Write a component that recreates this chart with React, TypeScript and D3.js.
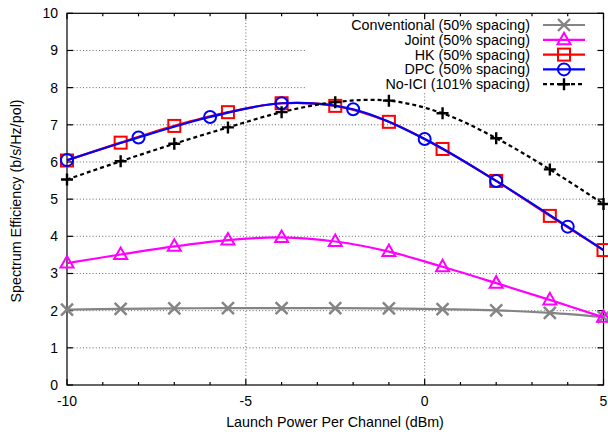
import React from "react";
import * as d3 from "d3";

// Launch power sample points (dBm) for the 1.5 dB-spaced series
const powerSteps = [-10, -8.5, -7, -5.5, -4, -2.5, -1, 0.5, 2, 3.5, 5];
// DPC sample points (markers on the 2 dB grid, line continues to 5 dBm)
const dpcPower = [-10, -8, -6, -4, -2, 0, 2, 4, 5];

const conventional = [2.03, 2.05, 2.06, 2.07, 2.07, 2.07, 2.06, 2.04, 2.01, 1.94, 1.83];
const joint = [3.28, 3.51, 3.73, 3.9, 3.97, 3.86, 3.59, 3.18, 2.74, 2.29, 1.82];
const hk = [6.04, 6.52, 6.97, 7.34, 7.58, 7.51, 7.08, 6.35, 5.49, 4.55, 3.63];
const dpc = [6.05, 6.66, 7.21, 7.58, 7.42, 6.62, 5.49, 4.26, 3.63];
const noIci = [5.53, 6.02, 6.49, 6.93, 7.34, 7.61, 7.65, 7.31, 6.64, 5.8, 4.87];

const seriesNames = [
  "Conventional (50% spacing)",
  "Joint (50% spacing)",
  "HK (50% spacing)",
  "DPC (50% spacing)",
  "No-ICI (101% spacing)",
];

const xTickLabels = [-10, -5, 0, 5];
const yTickLabels = [0, 1, 2, 3, 4, 5, 6, 7, 8, 9, 10];

const W = 608;
const H = 432;
const plot = { left: 67, right: 603.5, top: 13.3, bottom: 385 };
const FONT = "'Liberation Sans', Arial, Helvetica, sans-serif";
const FS = 14.3;

type Marker = "x" | "tri" | "sq" | "circ" | "plus";

function MarkerShape({ kind, cx, cy, color }: { kind: Marker; cx: number; cy: number; color: string }) {
  const s = 6;
  const sw = 2;
  if (kind === "x")
    return (
      <path d={`M${cx - s},${cy - s}L${cx + s},${cy + s}M${cx - s},${cy + s}L${cx + s},${cy - s}`} stroke={color} strokeWidth={2.4} fill="none" />
    );
  if (kind === "plus")
    return <path d={`M${cx - s},${cy}L${cx + s},${cy}M${cx},${cy - s}L${cx},${cy + s}`} stroke={color} strokeWidth={2.4} fill="none" />;
  if (kind === "sq")
    return <rect x={cx - s} y={cy - s} width={2 * s} height={2 * s} stroke={color} strokeWidth={sw} fill="none" />;
  if (kind === "circ") return <circle cx={cx} cy={cy} r={s} stroke={color} strokeWidth={sw} fill="none" />;
  return (
    <path d={`M${cx - 6.5},${cy + 4.5}L${cx + 6.5},${cy + 4.5}L${cx},${cy - 7}Z`} stroke={color} strokeWidth={sw} fill="none" />
  );
}

export default function App() {
  const x = d3.scaleLinear().domain([-10, 5]).range([plot.left, plot.right]);
  const y = d3.scaleLinear().domain([0, 10]).range([plot.bottom, plot.top]);

  const line = d3
    .line<[number, number]>()
    .x((d) => x(d[0]))
    .y((d) => y(d[1]))
    .curve(d3.curveCatmullRom.alpha(0.5));

  const series = [
    { name: seriesNames[0], xs: powerSteps, ys: conventional, color: "#848484", marker: "x" as Marker, dash: undefined, marked: (_: number) => true },
    { name: seriesNames[1], xs: powerSteps, ys: joint, color: "#ff00ff", marker: "tri" as Marker, dash: undefined, marked: (_: number) => true },
    { name: seriesNames[2], xs: powerSteps, ys: hk, color: "#ff0000", marker: "sq" as Marker, dash: undefined, marked: (_: number) => true },
    { name: seriesNames[3], xs: dpcPower, ys: dpc, color: "#0000ff", marker: "circ" as Marker, dash: undefined, marked: (v: number) => v % 2 === 0 },
    { name: seriesNames[4], xs: powerSteps, ys: noIci, color: "#000000", marker: "plus" as Marker, dash: "4,3", marked: (_: number) => true },
  ];

  const minorX = d3.range(-10, 6, 1);
  const legend = { textRight: 530, lineX0: 543, lineX1: 585, y0: 25, dy: 14.8, boxLeft: 305, boxBottom: 93 };

  return (
    <svg width={W} height={H} style={{ position: "absolute", left: 0, top: 0, background: "#fff" }} fontFamily={FONT}>
      <rect width={W} height={H} fill="#fff" />
      {/* grid */}
      <g stroke="#666" strokeWidth={1} strokeDasharray="1,2.2">
        {d3.range(1, 10).map((v) => (
          <line key={`gy${v}`} x1={plot.left} x2={plot.right} y1={y(v)} y2={y(v)} />
        ))}
        {[-5, 0].map((v) => (
          <line key={`gx${v}`} x1={x(v)} x2={x(v)} y1={plot.top} y2={plot.bottom} />
        ))}
      </g>
      {/* opaque key area */}
      <rect x={legend.boxLeft} y={plot.top + 1} width={plot.right - legend.boxLeft - 1} height={legend.boxBottom - plot.top - 1} fill="#fff" />

      {/* border and ticks */}
      <g stroke="#000" strokeWidth={1.2} fill="none">
        <rect x={plot.left} y={plot.top} width={plot.right - plot.left} height={plot.bottom - plot.top} />
        {minorX.map((v) => {
          const len = xTickLabels.includes(v) ? 6 : 3;
          return (
            <g key={`tx${v}`}>
              <line x1={x(v)} x2={x(v)} y1={plot.bottom} y2={plot.bottom - len} />
              <line x1={x(v)} x2={x(v)} y1={plot.top} y2={plot.top + len} />
            </g>
          );
        })}
        {yTickLabels.map((v) => (
          <g key={`ty${v}`}>
            <line x1={plot.left} x2={plot.left + 6} y1={y(v)} y2={y(v)} />
            <line x1={plot.right} x2={plot.right - 6} y1={y(v)} y2={y(v)} />
          </g>
        ))}
      </g>

      {/* tick labels */}
      <g fontSize={14} fill="#000">
        {xTickLabels.map((v) => (
          <text key={`lx${v}`} x={x(v)} y={406} textAnchor="middle">
            {v}
          </text>
        ))}
        {yTickLabels.map((v) => (
          <text key={`ly${v}`} x={58} y={y(v)} textAnchor="end" dominantBaseline="central">
            {v}
          </text>
        ))}
      </g>
      <text x={335} y={427} fontSize={FS} textAnchor="middle">
        Launch Power Per Channel (dBm)
      </text>
      <text transform={`translate(21,201) rotate(-90)`} fontSize={FS} textAnchor="middle">
        Spectrum Efficiency (b/s/Hz/pol)
      </text>

      {/* data */}
      <g>
        {series.map((s) => {
          const pts = s.xs.map((v, i) => [v, s.ys[i]] as [number, number]);
          return (
            <g key={s.name}>
              <path d={line(pts) ?? ""} fill="none" stroke={s.color} strokeWidth={2.2} strokeDasharray={s.dash} />
              {pts
                .filter((p) => s.marked(p[0]))
                .map((p, i) => (
                  <MarkerShape key={i} kind={s.marker} cx={x(p[0])} cy={y(p[1])} color={s.color} />
                ))}
            </g>
          );
        })}
      </g>

      {/* key */}
      <g fontSize={FS}>
        {series.map((s, i) => {
          const cy = legend.y0 + i * legend.dy;
          return (
            <g key={`k${i}`}>
              <text x={legend.textRight} y={cy} textAnchor="end" dominantBaseline="central">
                {s.name}
              </text>
              <line x1={legend.lineX0} x2={legend.lineX1} y1={cy} y2={cy} stroke={s.color} strokeWidth={2.2} strokeDasharray={s.dash} />
              <MarkerShape kind={s.marker} cx={(legend.lineX0 + legend.lineX1) / 2} cy={cy} color={s.color} />
            </g>
          );
        })}
      </g>
    </svg>
  );
}
